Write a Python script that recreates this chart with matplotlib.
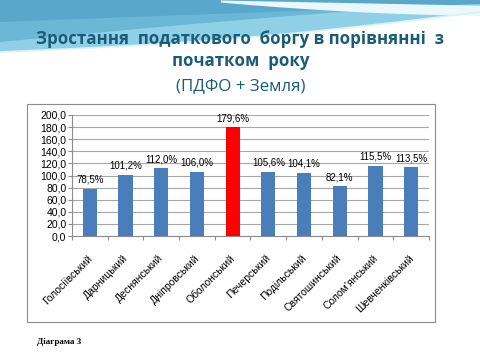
import numpy as np
import matplotlib
matplotlib.use("Agg")
import matplotlib.pyplot as plt
from matplotlib.patches import Rectangle

districts = ["Голосіївський", "Дарницький", "Деснянський", "Дніпровський",
             "Оболонський", "Печерський", "Подільський", "Святошинський",
             "Солом'янський", "Шевченківський"]
growth = [78.5, 101.2, 112.0, 106.0, 179.6, 105.6, 104.1, 82.1, 115.5, 113.5]
highlight = "Оболонський"
yticks = np.arange(0, 201, 20)

W, H = 481, 360
fig = plt.figure(figsize=(W / 100, H / 100), dpi=100)
fig.patch.set_facecolor("white")

# slide background: blue wave across the top
bg = fig.add_axes([0, 0, 1, 1], zorder=0)
bg.set_xlim(0, W); bg.set_ylim(H, 0); bg.axis("off")
xs = np.linspace(0, W, 300)
t = xs / W
lower = 52 - 40 * t + 6 * np.sin(t * np.pi)
bg.fill_between(xs, 0, lower, color="#8fd0e6", lw=0)
bg.fill_between(xs, 0, lower - 10 - 8 * np.sin(t * np.pi), color="#6bb8d6", lw=0)
bg.fill_between(xs, 0, 22 - 18 * t, color="#5aa7cc", lw=0)
# white swoosh upper right
sw_top = np.where(xs > 220, (xs - 220) * 0.02, np.nan)
sw_bot = np.where(xs > 220, 2 + (xs - 220) * 0.09 - ((xs - 220) / 261) ** 2 * 10, np.nan)
bg.fill_between(xs, sw_top, sw_bot, color="#eaf7fb", lw=0)
bg.plot(xs, lower, color="#d9f1f8", lw=1.2)

# chart frame
bg.add_patch(Rectangle((27, 104), 408, 218, facecolor="white",
                       edgecolor="#8c8c8c", lw=0.8))

title_color = "#1a5c78"
fig.text(0.5, 1 - 39 / H, "Зростання  податкового  боргу в порівнянні  з",
         ha="center", va="center", fontsize=12.2, fontweight="bold",
         color=title_color, family="Open Sans")
fig.text(0.5, 1 - 61 / H, "початком  року", ha="center", va="center",
         fontsize=12.2, fontweight="bold", color=title_color, family="Open Sans")
fig.text(0.5, 1 - 86 / H, "(ПДФО + Земля)", ha="center", va="center",
         fontsize=12.2, color=title_color, family="Open Sans")
fig.text(37 / W, 1 - 342 / H, "Діаграма 3", ha="left", va="center",
         fontsize=6.5, fontweight="bold", family="Liberation Serif")

ax = fig.add_axes([72 / W, 1 - 236 / H, (429 - 72) / W, (236 - 115) / H], zorder=2)
ax.set_facecolor("white")
x = np.arange(len(districts))
colors = ["#ff0000" if d == highlight else "#4a7ebb" for d in districts]
ax.bar(x, growth, width=0.4, color=colors, zorder=3)
for xi, v in zip(x, growth):
    ax.text(xi, v + 7, f"{v:.1f}%".replace(".", ","), ha="center", va="bottom",
            fontsize=7, family="Liberation Sans")

ax.set_xlim(-0.5, len(districts) - 0.5)
ax.set_ylim(0, 200)
ax.set_yticks(yticks)
ax.set_yticklabels([f"{t:.1f}".replace(".", ",") for t in yticks],
                   fontsize=7.5, family="Liberation Sans")
ax.set_xticks(np.arange(len(districts) + 1) - 0.5)
ax.set_xticklabels([])
ax.tick_params(axis="x", length=3, color="#8c8c8c", direction="out")
ax.tick_params(axis="y", length=3, color="#8c8c8c", pad=1)
for xi, d in zip(x, districts):
    ax.text(xi - 0.08, -28, d, rotation=45, ha="right", va="top",
            rotation_mode="anchor", fontsize=7.5, family="Liberation Sans")
ax.grid(axis="y", color="#a6a6a6", lw=0.8, zorder=0)
for s in ["top", "right"]:
    ax.spines[s].set_visible(False)
ax.spines["left"].set_color("#8c8c8c")
ax.spines["bottom"].set_color("#8c8c8c")

fig.savefig("out.png", dpi=100)
